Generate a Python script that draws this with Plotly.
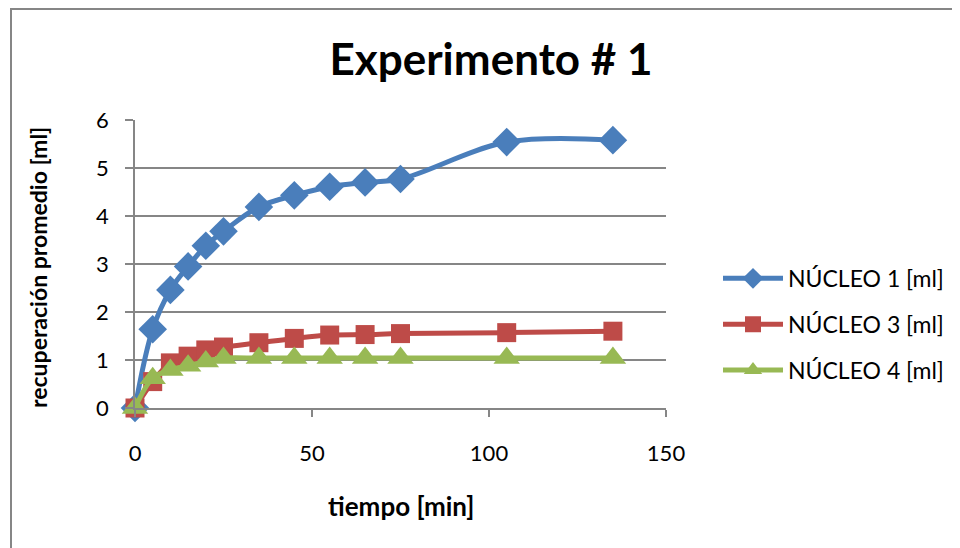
import plotly.graph_objects as go

tiempo = [0, 5, 10, 15, 20, 25, 35, 45, 55, 65, 75, 105, 135]
nucleo1 = [0, 1.64, 2.46, 2.95, 3.38, 3.68, 4.19, 4.43, 4.61, 4.70, 4.77, 5.54, 5.58]
nucleo3 = [0, 0.55, 0.94, 1.08, 1.21, 1.27, 1.36, 1.45, 1.52, 1.53, 1.55, 1.57, 1.60]
nucleo4 = [0, 0.62, 0.79, 0.88, 0.97, 1.04, 1.04, 1.04, 1.04, 1.04, 1.04, 1.04, 1.04]

names = ["NÚCLEO 1 [ml]", "NÚCLEO 3 [ml]", "NÚCLEO 4 [ml]"]
series = [nucleo1, nucleo3, nucleo4]
colors = ["#4A7EBB", "#BE4B48", "#98B954"]
symbols = ["diamond", "square", "triangle-up"]
sizes = [22, 19, 23]

FONT = "Lato"
OFF = 8  # page body margin

fig = go.Figure()
for i, (nm, ys) in enumerate(zip(names, series)):
    fig.add_trace(go.Scatter(
        x=tiempo, y=ys, name=nm, mode="lines+markers",
        line=dict(color=colors[i], width=5, shape="spline", smoothing=1),
        marker=dict(symbol=symbols[i], size=sizes[i], color=colors[i], line=dict(width=0)),
        cliponaxis=False, legendgroup=str(i),
    ))

# target pixel geometry in the screenshot
L, R, T, B = 135, 666, 120, 408
W, H = 960, 548
pw, ph = R - L, B - T

fig.update_layout(
    width=W, height=H,
    margin=dict(l=L - OFF, r=W - (R - OFF), t=T - OFF, b=H - (B - OFF)),
    paper_bgcolor="white", plot_bgcolor="white",
    font=dict(family=FONT, size=21, color="black"),
    title=dict(text="<b>Experimento # 1</b>", x=(491 - OFF) / W, xanchor="center",
               y=1 - (60 - OFF) / H, yanchor="middle", yref="container",
               font=dict(family=FONT, size=44, color="black")),
    showlegend=True,
    legend=dict(x=(718 - L) / pw, y=(B - 277) / ph + 0.07, xanchor="left", yanchor="top",
                font=dict(family=FONT, size=23, color="black"),
                tracegroupgap=13, bgcolor="rgba(0,0,0,0)", itemwidth=60),
    xaxis=dict(range=[0, 150], dtick=50, tick0=0, showgrid=False, zeroline=False,
               showline=True, linecolor="#868686", linewidth=1.5,
               ticks="outside", ticklen=7, tickcolor="#868686", tickwidth=1.5,
               ticklabelstandoff=18, tickfont=dict(family=FONT, size=22)),
    yaxis=dict(range=[0, 6], dtick=1, tick0=0, showgrid=True, gridcolor="#868686", gridwidth=1.5,
               zeroline=False, showline=True, linecolor="#868686", linewidth=1.5,
               ticks="outside", ticklen=8, tickcolor="#868686", tickwidth=1.5,
               ticklabelstandoff=12, tickfont=dict(family=FONT, size=22)),
    annotations=[
        dict(text="<b>tiempo [min]</b>", xref="paper", yref="paper",
             x=0.5, y=(B - 506) / ph, xanchor="center", yanchor="middle",
             showarrow=False, font=dict(family=FONT, size=26)),
        dict(text="<b>recuperación promedio [ml]</b>", xref="paper", yref="paper",
             x=(38 - L) / pw, y=(B - 268) / ph, xanchor="center", yanchor="middle",
             textangle=-90, showarrow=False, font=dict(family=FONT, size=23)),
    ],
    shapes=[dict(type="rect", xref="paper", yref="paper",
                 x0=(11 - L) / pw, x1=(975 - L) / pw,
                 y0=(B - 560) / ph, y1=(B - 9) / ph,
                 line=dict(color="#868686", width=2), layer="below")],
)

fig.write_html("out.html")
